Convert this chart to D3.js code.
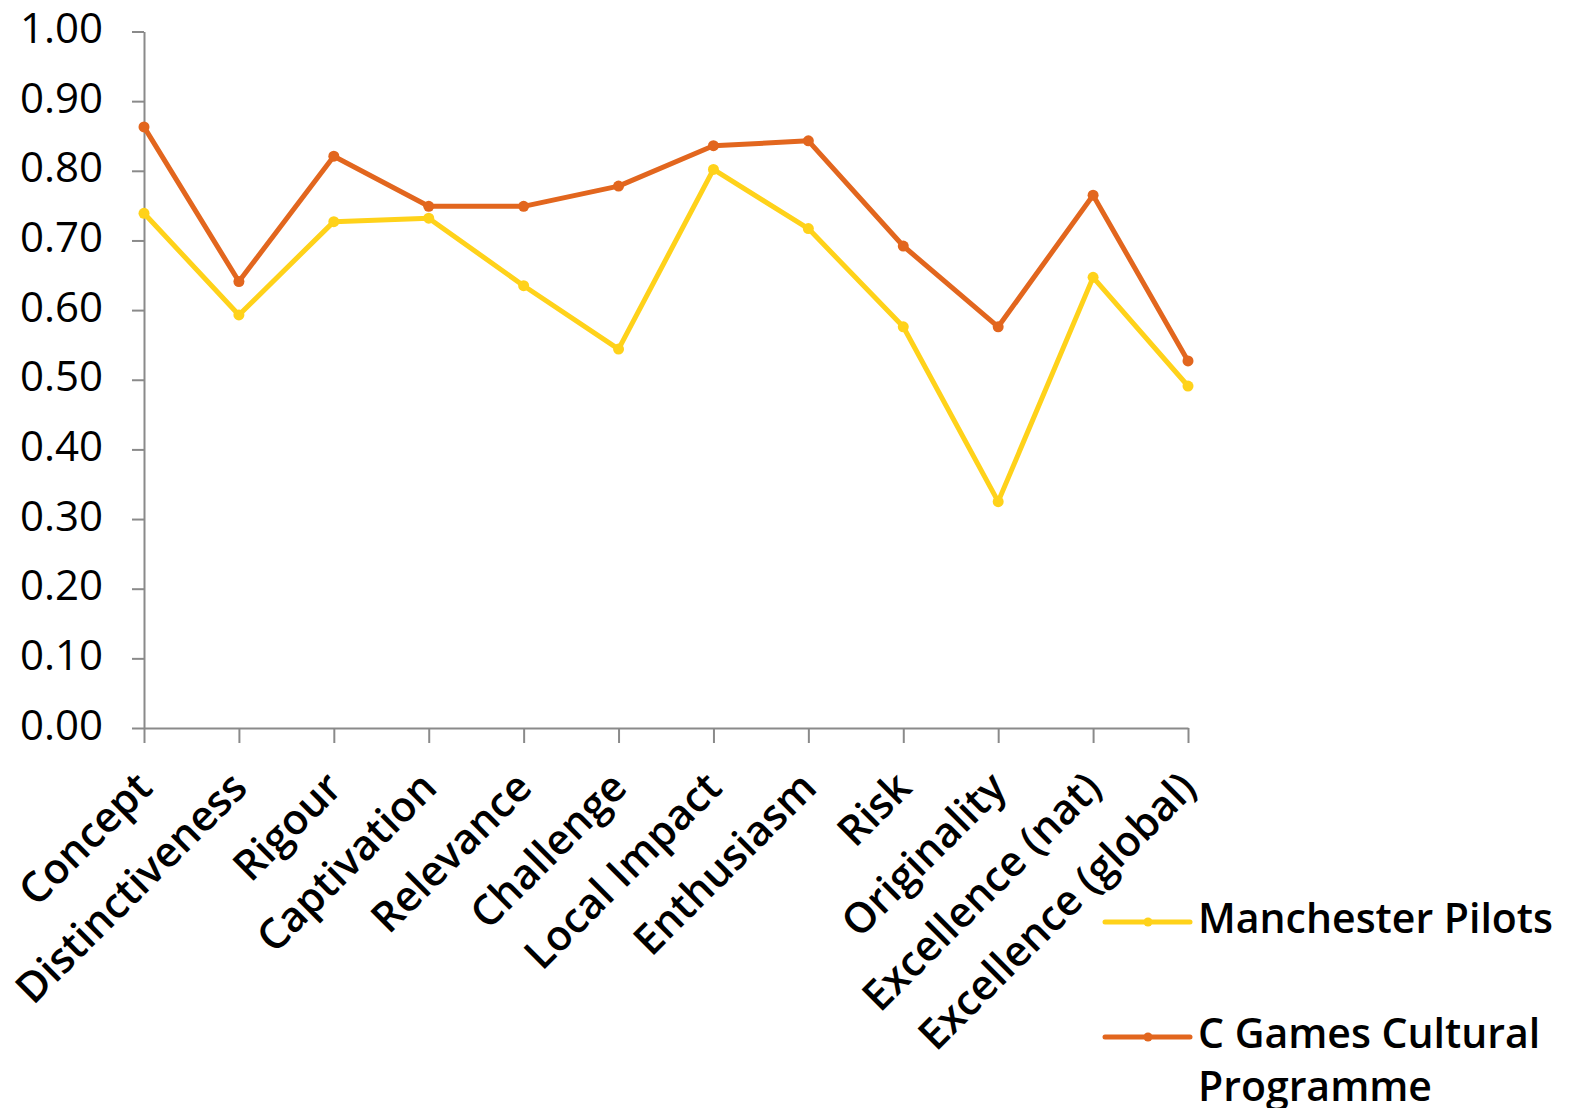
<!DOCTYPE html>
<html>
<head>
<meta charset="utf-8">
<script src="https://cdn.jsdelivr.net/npm/d3@7"></script>
<style>
  html, body { margin: 0; padding: 0; background: #fff; }
  svg { display: block; }
  svg text { font-family: "Open Sans", Lato, sans-serif; }
</style>
</head>
<body>
<svg id="chart" width="1571" height="1108"></svg>
<script>
// Scores per quality dimension
const categories = ["Concept", "Distinctiveness", "Rigour", "Captivation", "Relevance",
  "Challenge", "Local Impact", "Enthusiasm", "Risk", "Originality",
  "Excellence (nat)", "Excellence (global)"];
const manchesterPilots = [0.739, 0.593, 0.727, 0.732, 0.635, 0.544, 0.802, 0.717, 0.576, 0.325, 0.647, 0.491];
const cGamesCultural = [0.863, 0.641, 0.821, 0.749, 0.749, 0.778, 0.836, 0.843, 0.692, 0.576, 0.765, 0.527];
const yTicks = [0, 0.1, 0.2, 0.3, 0.4, 0.5, 0.6, 0.7, 0.8, 0.9, 1.0];

const series = [
  { name: ["Manchester Pilots"], values: manchesterPilots, color: "#FFD21A" },
  { name: ["C Games Cultural", "Programme"], values: cGamesCultural, color: "#E2661E" }
];

const svg = d3.select("#chart");
const axisColor = "#8a8a8a";
const fontStack = "'Open Sans', Lato, sans-serif";

const x = d3.scalePoint().domain(categories).range([144, 1188]);
const y = d3.scaleLinear().domain([0, 1]).range([728, 31.5]);

// Y axis
const yAxis = svg.append("g")
  .attr("transform", "translate(144,0)")
  .call(d3.axisLeft(y).tickValues(yTicks).tickFormat(d3.format(".2f"))
    .tickSize(12).tickSizeOuter(0).tickPadding(29))
  .attr("font-family", fontStack);
yAxis.select(".domain").attr("stroke", axisColor).attr("stroke-width", 2);
yAxis.selectAll(".tick line").attr("stroke", axisColor).attr("stroke-width", 2);
yAxis.selectAll(".tick text")
  .attr("fill", "#000").attr("font-size", 42).attr("font-weight", 500).attr("dy", 11);

// X axis
const xAxis = svg.append("g")
  .attr("transform", "translate(0,728)")
  .call(d3.axisBottom(x).tickSize(15).tickSizeOuter(0))
  .attr("font-family", fontStack);
xAxis.select(".domain").attr("stroke", axisColor).attr("stroke-width", 2);
xAxis.selectAll(".tick line").attr("stroke", axisColor).attr("stroke-width", 2);
xAxis.selectAll(".tick text")
  .attr("fill", "#000").attr("font-size", 42).attr("font-weight", 600)
  .attr("text-anchor", "end").attr("y", 0).attr("dy", 0)
  .attr("transform", "translate(10,62) rotate(-45)");

// Lines and markers
const line = d3.line().x((d, i) => x(categories[i])).y(d => y(d));
series.forEach(s => {
  svg.append("path")
    .datum(s.values)
    .attr("fill", "none")
    .attr("stroke", s.color)
    .attr("stroke-width", 5)
    .attr("stroke-linejoin", "round")
    .attr("d", line);
  svg.append("g").selectAll("circle")
    .data(s.values)
    .join("circle")
    .attr("cx", (d, i) => x(categories[i]))
    .attr("cy", d => y(d))
    .attr("r", 5.5)
    .attr("fill", s.color);
});

// Legend
const legendRows = [922, 1037];
series.forEach((s, i) => {
  const g = svg.append("g").attr("transform", `translate(0,${legendRows[i]})`);
  g.append("line").attr("x1", 1105).attr("x2", 1190).attr("y1", 0).attr("y2", 0)
    .attr("stroke", s.color).attr("stroke-width", 5).attr("stroke-linecap", "round");
  g.append("circle").attr("cx", 1148).attr("cy", 0).attr("r", 4.5).attr("fill", s.color);
  const t = g.append("text").attr("x", 1198).attr("y", 11)
    .attr("font-size", 41).attr("font-weight", 600).attr("fill", "#000");
  s.name.forEach((ln, j) => {
    t.append("tspan").attr("x", 1198).attr("dy", j === 0 ? 0 : 53).text(ln);
  });
});
</script>
</body>
</html>
